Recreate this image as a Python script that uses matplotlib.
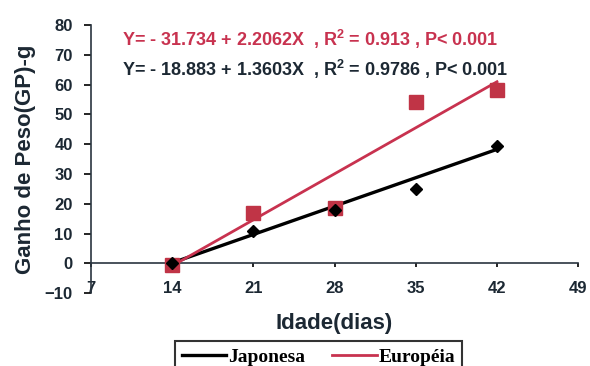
import numpy as np
import matplotlib
matplotlib.use("Agg")
import matplotlib.pyplot as plt

# data
idade = [14, 21, 28, 35, 42]
japonesa = [0.0, 11.0, 18.0, 25.0, 39.5]
europeia = [-0.5, 17.0, 18.5, 54.0, 58.0]

# regression coefficients (intercept, slope)
fit_jap = (-18.883, 1.3603)
fit_eur = (-31.734, 2.2062)
eq_eur = "Y= - 31.734 + 2.2062X  , R$^\\mathbf{2}$ = 0.913 , P< 0.001"
eq_jap = "Y= - 18.883 + 1.3603X  , R$^\\mathbf{2}$ = 0.9786 , P< 0.001"

xticks = [7, 14, 21, 28, 35, 42, 49]
yticks = [-10, 0, 10, 20, 30, 40, 50, 60, 70, 80]

plt.rcParams["font.family"] = "Liberation Sans"
plt.rcParams["font.weight"] = "bold"
plt.rcParams["mathtext.fontset"] = "custom"
plt.rcParams["mathtext.bf"] = "Liberation Sans:bold"
plt.rcParams["mathtext.rm"] = "Liberation Sans:bold"

red = "#c8324f"
red_mk = "#c03446"
dark = "#1c2833"

fig = plt.figure(figsize=(5.9, 3.66), dpi=100)
ax = fig.add_axes([0.154, 0.199, 0.826, 0.733])

xs = np.array([idade[0], idade[-1]])
(l1,) = ax.plot(xs, fit_jap[0] + fit_jap[1] * xs, color="black", lw=2.4,
                label="Japonesa", zorder=3)
(l2,) = ax.plot(xs, fit_eur[0] + fit_eur[1] * xs, color=red, lw=2.0,
                label="Européia", zorder=3)
ax.plot(idade, europeia, "s", color=red_mk, markersize=9.5, zorder=4)
ax.plot(idade, japonesa, "D", color="black", markersize=6, zorder=5)

ax.set_xlim(7, 49)
ax.set_ylim(-10, 80)
ax.set_xticks(xticks)
ax.set_yticks(yticks)

ax.spines["top"].set_visible(False)
ax.spines["right"].set_visible(False)
ax.spines["bottom"].set_position(("data", 0))
ax.spines["bottom"].set_color("#2a3540")
ax.spines["left"].set_color("#2a3540")
ax.spines["bottom"].set_linewidth(1.2)
ax.spines["left"].set_linewidth(1.2)

ax.tick_params(axis="y", direction="out", length=5, width=1.2,
               labelsize=12, labelcolor=dark, pad=8)
ax.tick_params(axis="x", direction="out", length=3, width=1.2,
               labelsize=12, labelcolor=dark, pad=10)

ax.set_xlabel("Idade(dias)", fontsize=16, fontweight="bold", color=dark,
              labelpad=12)
ax.set_ylabel("Ganho de Peso(GP)-g", fontsize=16, fontweight="bold",
              color=dark, labelpad=6)

ax.text(9.7, 75, eq_eur, color=red, fontsize=13, fontweight="bold",
        va="center", ha="left")
ax.text(9.7, 65, eq_jap, color=dark, fontsize=13, fontweight="bold",
        va="center", ha="left")

leg = fig.legend(handles=[l1, l2], loc="upper center",
                 bbox_to_anchor=(0.54, 0.068), ncol=2, frameon=True,
                 fancybox=False, edgecolor="black", borderpad=0.35,
                 borderaxespad=0, handlelength=2.3, handletextpad=0.1,
                 columnspacing=1.4,
                 prop={"family": "Liberation Serif", "weight": "bold",
                       "size": 14})
leg.get_frame().set_linewidth(1.5)

fig.savefig("out.png", dpi=100)
